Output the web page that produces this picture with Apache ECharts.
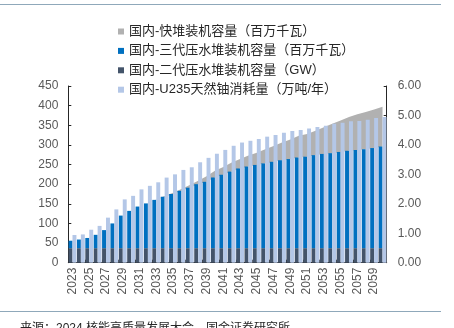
<!DOCTYPE html>
<html>
<head>
<meta charset="utf-8">
<script src="https://cdn.jsdelivr.net/npm/echarts@6/dist/echarts.min.js"></script>
<style>
  html, body { margin: 0; padding: 0; background: #ffffff; }
  #chart { width: 454px; height: 328px; }
</style>
</head>
<body>
<div id="chart"></div>
<script>
// Years on the category axis
const years = ['2023','2024','2025','2026','2027','2028','2029','2030','2031','2032',
  '2033','2034','2035','2036','2037','2038','2039','2040','2041','2042',
  '2043','2044','2045','2046','2047','2048','2049','2050','2051','2052',
  '2053','2054','2055','2056','2057','2058','2059','2060'];

// Second-generation PWR capacity (GW)
const gen2Capacity = [37,37,37,37,37,37,37,37,37,37,
  37,37,37,37,37,37,37,37,37,37,
  37,37,37,37,37,37,37,37,37,37,
  37,37,37,37,37,37,37,37];

// Third-generation PWR capacity (million kW)
const gen3Capacity = [19,22,26,34,46,63,83,95,106,114,
  123,131,138,146,154,163,169,180,187,195,
  203,208,212,216,220,224,227,231,233,237,
  240,242,245,248,250,252,255,259];

// Fast reactor capacity (million kW)
const fastCapacity = [0,0,0,0,0,0,0,0,0,0,
  1,2,3,5,7,9,14,17,20,23,
  24,28,31,36,40,45,50,55,58,62,
  68,75,80,86,91,95,98,101];

// Natural uranium (U235) consumption (10k tonnes / year)
const uraniumUse = [0.94,0.96,1.12,1.25,1.53,1.81,2.15,2.27,2.49,2.61,
  2.73,2.89,3.00,3.15,3.24,3.41,3.56,3.70,3.83,3.97,
  4.08,4.14,4.20,4.28,4.34,4.41,4.47,4.51,4.56,4.61,
  4.65,4.72,4.75,4.80,4.81,4.85,4.91,4.95];

const names = {
  fast: '国内-快堆装机容量（百万千瓦）',
  gen3: '国内-三代压水堆装机容量（百万千瓦）',
  gen2: '国内-二代压水堆装机容量（GW）',
  u235: '国内-U235天然铀消耗量（万吨/年）'
};

const FONT = '"Liberation Sans", Arial, "Noto Sans CJK SC", sans-serif';
const axisColor = '#262626';
const labelColor = '#595959';

const chart = echarts.init(document.getElementById('chart'), null, { renderer: 'canvas' });

chart.setOption({
  animation: false,
  backgroundColor: '#ffffff',
  textStyle: { fontFamily: FONT },
  legend: {
    orient: 'vertical',
    left: 113,
    top: 20,
    itemWidth: 6,
    itemHeight: 6,
    itemGap: 6.4,
    icon: 'rect',
    data: [names.fast, names.gen3, names.gen2, names.u235],
    textStyle: { fontSize: 13, color: '#262626', fontFamily: FONT }
  },
  grid: { left: 68.3, right: 67.3, top: 86, bottom: 65.3, containLabel: false },
  xAxis: {
    type: 'category',
    data: years,
    axisLine: { lineStyle: { color: axisColor, width: 1 } },
    axisTick: { show: true, inside: true, length: 3, lineStyle: { color: axisColor } },
    axisLabel: {
      interval: 1, rotate: 90, fontSize: 12, color: labelColor, margin: 5, fontFamily: FONT
    }
  },
  yAxis: [
    {
      type: 'value', min: 0, max: 450, interval: 50,
      splitLine: { show: false },
      axisLine: { show: true, lineStyle: { color: axisColor, width: 1 } },
      axisTick: { show: true, inside: true, length: 3, lineStyle: { color: axisColor } },
      axisLabel: { fontSize: 12, color: labelColor, margin: 10, fontFamily: FONT }
    },
    {
      type: 'value', min: 0, max: 6, interval: 1,
      splitLine: { show: false },
      axisLine: { show: true, lineStyle: { color: axisColor, width: 1 } },
      axisTick: { show: true, inside: true, length: 3, lineStyle: { color: axisColor } },
      axisLabel: {
        fontSize: 12, color: labelColor, margin: 11, fontFamily: FONT,
        formatter: v => v.toFixed(2)
      }
    }
  ],
  series: [
    {
      name: names.gen2, type: 'bar', stack: 'cap', yAxisIndex: 0,
      data: gen2Capacity, itemStyle: { color: '#44546A' },
      barGap: '0%', barCategoryGap: '6%'
    },
    {
      name: names.gen3, type: 'bar', stack: 'cap', yAxisIndex: 0,
      data: gen3Capacity, itemStyle: { color: '#0070C0' }
    },
    {
      name: names.fast, type: 'line', stack: 'cap', yAxisIndex: 0,
      data: fastCapacity, symbol: 'none', z: 1,
      lineStyle: { width: 0, color: '#B1B1B1' },
      itemStyle: { color: '#B1B1B1' },
      areaStyle: { color: '#B1B1B1', opacity: 1 }
    },
    {
      name: names.u235, type: 'bar', yAxisIndex: 1,
      data: uraniumUse, itemStyle: { color: '#B4C7E7' },
      barGap: '0%', barCategoryGap: '6%'
    }
  ],
  graphic: [
    { type: 'line', shape: { x1: 0, y1: 4.5, x2: 441, y2: 4.5 }, style: { stroke: '#8FA8BA', lineWidth: 1 } },
    { type: 'line', shape: { x1: 0, y1: 311.5, x2: 441, y2: 311.5 }, style: { stroke: '#8FA8BA', lineWidth: 1 } },
    {
      type: 'text', left: 20, top: 323,
      style: { text: '来源：2024 核能高质量发展大会，国金证券研究所', fontSize: 12, fill: '#262626', fontFamily: FONT }
    }
  ]
});
</script>
</body>
</html>
